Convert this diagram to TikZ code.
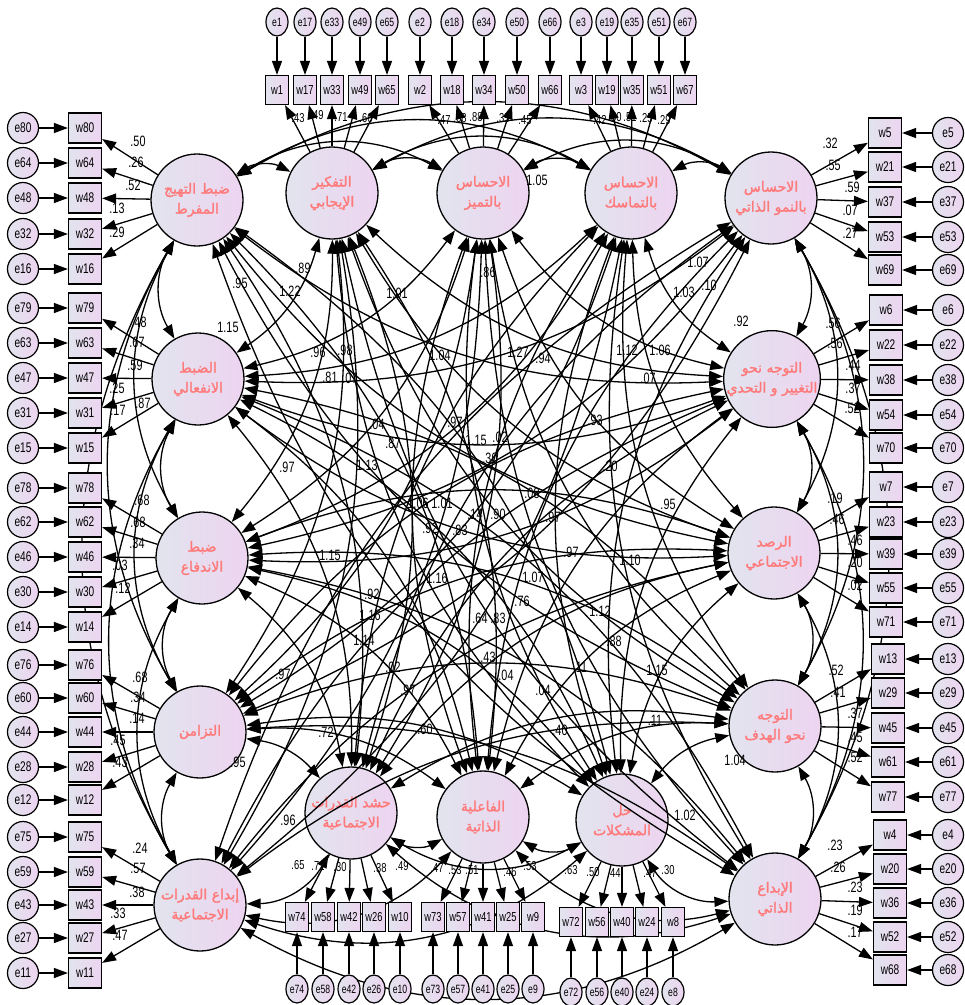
\documentclass[tikz,border=0pt]{standalone}
\usepackage{fontspec}
\setmainfont{Liberation Sans}
\newfontfamily\narrowfont[FakeStretch=0.72]{Liberation Sans}
\newfontfamily\arabicfont[Script=Arabic,FakeBold=1.8]{DejaVu Sans}
\TeXXeTstate=1
\usetikzlibrary{arrows.meta,shapes.geometric}
\definecolor{fillL}{HTML}{E2E4EE}
\definecolor{fillR}{HTML}{EDD4F0}
\definecolor{salmon}{HTML}{FF7A7A}
\tikzset{
 lat/.style={circle,draw,line width=1.3pt,minimum size=92pt,inner sep=0pt,left color=fillL,right color=fillR,text=salmon,align=center,font=\arabicfont\fontsize{14}{20}\selectfont},
 obs/.style={rectangle,draw,line width=1.2pt,minimum width=33pt,minimum height=30pt,inner sep=0pt,left color=fillL,right color=fillR,font=\narrowfont\fontsize{14}{14}\selectfont},
 obst/.style={obs,minimum width=23pt,minimum height=29pt,font=\narrowfont\fontsize{13}{13}\selectfont},
 err/.style={circle,draw,line width=1.2pt,minimum size=31pt,inner sep=0pt,left color=fillL,right color=fillR,font=\narrowfont\fontsize{14}{14}\selectfont},
 errt/.style={ellipse,draw,line width=1.2pt,minimum width=22pt,minimum height=28pt,inner sep=0pt,left color=fillL,right color=fillR,font=\narrowfont\fontsize{12}{12}\selectfont},
 arr/.style={line width=1.3pt,-{Triangle[length=14pt,width=10pt]}},
 cov/.style={line width=1.3pt,{Triangle[length=14pt,width=10pt]}-{Triangle[length=14pt,width=10pt]}},
 num/.style={font=\narrowfont\fontsize{15}{15}\selectfont,inner sep=0pt},
 numt/.style={font=\narrowfont\fontsize{13}{13}\selectfont,inner sep=0pt},
}
\begin{document}
\begin{tikzpicture}[x=1pt,y=-1pt]
\useasboundingbox (0,0) rectangle (965,1005);
% latent factors (clockwise order)
\node[lat] (F1) at (197,200) {\beginR ضبط التهيج\endR\\\beginR المفرط\endR};
\node[lat] (F2) at (332,193) {\beginR التفكير\endR\\\beginR الإيجابي\endR};
\node[lat] (F3) at (483,193) {\beginR الاحساس\endR\\\beginR بالتميز\endR};
\node[lat] (F4) at (631,193) {\beginR الاحساس\endR\\\beginR بالتماسك\endR};
\node[lat] (F5) at (771,198) {\beginR الاحساس\endR\\\beginR بالنمو الذاتي\endR};
\node[lat] (F6) at (772,379) {\beginR التوجه نحو\endR\\\beginR التغيير و التحدي\endR};
\node[lat] (F7) at (774,553) {\beginR الرصد\endR\\\beginR الاجتماعي\endR};
\node[lat] (F8) at (775,726) {\beginR التوجه\endR\\\beginR نحو الهدف\endR};
\node[lat] (F9) at (775,899) {\beginR الإبداع\endR\\\beginR الذاتي\endR};
\node[lat] (F10) at (622,820) {\beginR حل\endR\\\beginR المشكلات\endR};
\node[lat] (F11) at (483,817) {\beginR الفاعلية\endR\\\beginR الذاتية\endR};
\node[lat] (F12) at (351,813) {\beginR حشد القدرات\endR\\\beginR الاجتماعية\endR};
\node[lat] (F13) at (200,905) {\beginR إبداع القدرات\endR\\\beginR الاجتماعية\endR};
\node[lat] (F14) at (200,732) {\beginR التزامن\endR};
\node[lat] (F15) at (202,558) {\beginR ضبط\endR\\\beginR الاندفاع\endR};
\node[lat] (F16) at (198,379) {\beginR الضبط\endR\\\beginR الانفعالي\endR};
% covariances: outward arcs along a side, inward arcs across
\foreach \i in {1,...,15}{
  \pgfmathtruncatemacro\s{\i+1}
  \foreach \j in {\s,...,16}{
    \pgfmathtruncatemacro\d{\j-\i}
    \pgfmathtruncatemacro\same{(\j<=5)||(\i>=5&&\j<=9)||(\i>=9&&\j<=13)||(\i>=13)||(\i==1&&\j>=13)}
    \ifnum\same=1 \def\ang{30}\else\def\ang{-20}\fi
    \ifnum\d<9
      \draw[cov] (F\i) to[bend left=\ang] (F\j);
    \else
      \draw[cov] (F\j) to[bend left=\ang] (F\i);
    \fi
  }
}
% left indicators
\foreach \f/\lst in {F1/{80/128,64/163,48/198,32/234,16/269},F16/{79/308,63/343,47/378,31/413,15/448},F15/{78/488,62/522,46/557,30/592,14/627},F14/{76/665,60/698,44/732,28/767,12/800},F13/{75/837,59/872,43/905,27/938,11/973}}{
  \foreach \n/\y in \lst{
    \node[obs] (w\n) at (85,\y) {w\n};
    \node[err] (e\n) at (23,\y) {e\n};
    \draw[arr] (e\n) -- (w\n);
    \draw[arr] (\f) -- (w\n);
  }
}
% right indicators
\foreach \f/\bx/\lst in {F5/885/{5/133,21/167,37/202,53/237,69/270},F6/886/{6/310,22/345,38/380,54/415,70/448},F7/886/{7/487,23/522,39/554,55/588,71/622},F8/888/{13/659,29/693,45/728,61/762,77/797},F9/890/{4/835,20/869,36/903,52/937,68/970}}{
  \foreach \n/\y in \lst{
    \node[obs] (w\n) at (\bx,\y) {w\n};
    \node[err] (e\n) at (948,\y) {e\n};
    \draw[arr] (e\n) -- (w\n);
    \draw[arr] (\f) -- (w\n);
  }
}
% top indicators
\foreach \f/\lst in {F2/{1/277,17/305,33/332,49/360,65/387},F3/{2/420,18/452,34/484,50/517,66/550},F4/{3/581,19/607,35/632,51/659,67/685}}{
  \foreach \n/\x in \lst{
    \node[obst] (w\n) at (\x,90) {w\n};
    \node[errt] (e\n) at (\x,22) {e\n};
    \draw[arr] (e\n) -- (w\n);
    \draw[arr] (\f) -- (w\n);
  }
}
% bottom indicators
\foreach \f/\by/\ey/\lst in {F12/917/989/{74/297,58/323,42/349,26/374,10/400},F11/917/989/{73/433,57/458,41/483,25/508,9/533},F10/922/992/{72/571,56/597,40/622,24/647,8/673}}{
  \foreach \n/\x in \lst{
    \node[obst] (w\n) at (\x,\by) {w\n};
    \node[errt] (e\n) at (\x,\ey) {e\n};
    \draw[arr] (e\n) -- (w\n);
    \draw[arr] (\f) -- (w\n);
  }
}
% loading labels (sides)
\foreach \t/\x/\y [count=\k] in {
 .50/138/141,.26/136/162,.52/133/185,.13/117/208,.29/117/232,
 .48/139/322,.67/137/342,.59/135/365,.25/117/388,.17/118/410,
 .68/142/500,.68/138/522,.34/137/543,.03/120/565,.12/123/588,
 .68/140/677,.34/138/697,.14/137/718,.45/118/740,.43/120/762,
 .24/140/848,.57/138/868,.38/137/892,.33/118/913,.47/120/935,
 .32/830/143,.55/833/165,.59/852/187,.07/850/210,.27/850/233,
 .56/833/323,.56/835/343,.44/853/365,.37/853/388,.52/852/408,
 .19/835/498,.46/837/519,.46/855/540,.20/855/562,.02/855/585,
 .52/836/670,.41/838/692,.37/855/713,.45/855/737,.52/855/757,
 .23/835/845,.26/838/867,.23/855/887,.19/855/910,.17/855/932}{
  \node[num] (L\k) at (\x,\y) {\t};
}
% loading labels (top and bottom)
\foreach \t/\x/\y [count=\k] in {
 .43/298/118,.49/317/115,.71/341/117,.66/366/118,
 .47/444/120,.68/460/118,.88/476/117,.35/503/118,.45/525/120,
 .42/600/120,.50/615/117,.51/630/117,.25/646/118,.29/664/120,
 .65/298/865,.71/318/866,.30/340/867,.38/380/868,.49/402/866,
 .47/437/868,.53/455/870,.51/472/870,.46/510/872,.53/530/866,
 .63/571/870,.50/593/872,.44/614/873,.47/650/873,.30/668/870}{
  \node[numt] (T\k) at (\x,\y) {\t};
}
% covariance labels
\foreach \t/\x/\y [count=\k] in {
 .95/240/283,1.22/290/291,.89/303/268,1.15/228/327,.96/318/352,.98/345/350,
 .81/330/377,.07/350/378,1.01/397/293,.86/488/272,1.05/537/180,1.07/698/262,
 1.03/684/292,.10/709/285,.92/741/321,1.12/627/350,1.06/660/350,.07/648/378,
 1.04/440/355,1.27/518/352,.94/543/358,.93/595/420,.20/610/466,1.15/476/440,
 .02/500/437,.97/455/422,.30/490/458,.04/377/424,.87/393/443,.97/287/467,
 1.13/367/465,1.06/418/503,1.01/442/503,.92/430/528,.83/460/530,.14/475/514,
 .90/498/514,.08/532/493,.97/553/517,.95/668/504,1.10/630/560,.97/571/552,
 1.15/330/555,1.16/437/578,1.07/533/577,.92/372/594,1.16/370/615,1.14/364/640,
 .76/522/601,.64/480/618,.83/498/618,.88/614/641,1.12/600/611,.02/393/667,
 .97/408/690,.97/283/674,.72/326/732,.95/238/762,.60/425/729,.43/488/657,
 .04/506/675,.11/580/667,.04/543/690,1.15/657/670,.11/655/720,.40/560/730,
 1.04/735/760,1.02/685/815,.96/288/820,.87/143/403}{
  \node[num] (C\k) at (\x,\y) {\t};
}
\end{tikzpicture}
\end{document}
